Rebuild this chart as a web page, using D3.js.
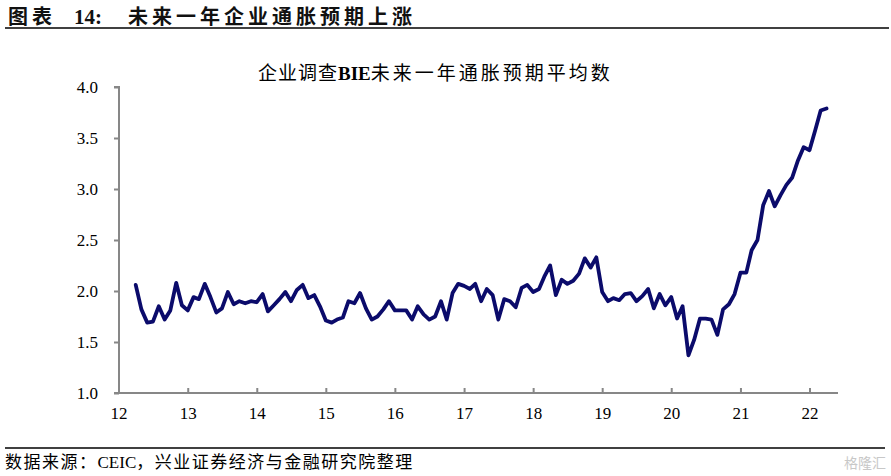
<!DOCTYPE html>
<html><head><meta charset="utf-8">
<script src="https://cdn.jsdelivr.net/npm/d3@7"></script>
<style>
html,body{margin:0;padding:0;background:#fff;}
svg{display:block;}
</style></head>
<body>
<script>
// Data: monthly BIE year-ahead inflation expectations, Apr 2012 - Apr 2022
const startYear = 2012, startMonth = 3; // April (0-based)
const values = [
2.06,1.82,1.69,1.70,1.85,1.72,1.81,2.08,1.86,
1.81,1.94,1.92,2.07,1.94,1.79,1.83,1.99,1.87,1.90,1.88,1.90,
1.89,1.97,1.80,1.86,1.92,1.99,1.90,2.01,2.06,1.93,1.96,1.85,
1.71,1.69,1.72,1.74,1.90,1.88,1.98,1.83,1.72,1.75,1.82,1.90,
1.81,1.81,1.81,1.72,1.85,1.77,1.72,1.75,1.90,1.72,1.98,2.07,
2.05,2.02,2.07,1.90,2.02,1.96,1.72,1.92,1.90,1.84,2.03,2.06,
1.99,2.02,2.14,2.25,1.96,2.11,2.07,2.10,2.17,2.32,2.23,2.33,
1.99,1.90,1.93,1.91,1.97,1.98,1.90,1.95,2.02,1.83,1.97,1.86,
1.94,1.73,1.85,1.37,1.52,1.73,1.73,1.72,1.57,1.82,1.87,1.97,
2.18,2.18,2.40,2.50,2.84,2.98,2.83,2.94,3.04,3.11,3.28,3.41,
3.38,3.58,3.77,3.79
];
const yTicks = [1.0,1.5,2.0,2.5,3.0,3.5,4.0];
const xTickYears = [2012,2013,2014,2015,2016,2017,2018,2019,2020,2021,2022];
const xTickLabels = ["12","13","14","15","16","17","18","19","20","21","22"];

const W = 891, H = 476;
const svg = d3.select("body").append("svg").attr("width", W).attr("height", H);

const data = values.map((v,i)=>({date:new Date(startYear, startMonth+i, 1), v}));

const x = d3.scaleTime()
  .domain([new Date(2012,0,1), new Date(2022,0,1)])
  .range([118.5, 118.5 + 10*69.1]);
const y = d3.scaleLinear().domain([1,4]).range([393,87]);

const serif = "'Liberation Serif', 'Times New Roman', serif";
const cjk = "'Noto Sans CJK SC', 'Noto Sans', sans-serif";

// Header
const t = svg.append("text").attr("y",24).style("fill","#111");
t.append("tspan").attr("x",8).style("font-family",cjk).style("font-weight","bold")
  .style("font-size","20px").style("letter-spacing","4px").text("图表");
t.append("tspan").attr("x",74).style("font-family",serif).style("font-weight","bold")
  .style("font-size","21px").text("14:");
t.append("tspan").attr("x",128).style("font-family",cjk).style("font-weight","bold")
  .style("font-size","20px").style("letter-spacing","4px").text("未来一年企业通胀预期上涨");
svg.append("line").attr("x1",5).attr("x2",889).attr("y1",28).attr("y2",28)
  .attr("stroke","#000").attr("stroke-width",1.5);

// Chart title
const ct = svg.append("text").attr("y",80).style("fill","#000").style("font-size","19px");
ct.append("tspan").attr("x",258).style("font-family",cjk).style("letter-spacing","1px").text("企业调查");
ct.append("tspan").style("font-family",serif).style("font-weight","bold").text("BIE");
ct.append("tspan").style("font-family",cjk).style("letter-spacing","3px").text("未来一年通胀预期平均数");

// Y axis
const yAxis = d3.axisLeft(y).tickValues(yTicks).tickFormat(d3.format(".1f")).tickSize(5).tickPadding(16);
const gy = svg.append("g").attr("transform","translate(119,0)").call(yAxis);
gy.attr("font-family", null).attr("font-size", null);
gy.select(".domain").attr("stroke","#878787").attr("stroke-width",2).attr("d","M-5,87H0V393H-5");
gy.selectAll(".tick line").attr("stroke","#878787").attr("stroke-width",2);
gy.selectAll(".tick text").style("font-family",serif).style("font-size","17px").style("fill","#000");

// X axis
const xAxis = d3.axisBottom(x).tickValues(xTickYears.map(yr=>new Date(yr,0,1)))
  .tickFormat((d,i)=>xTickLabels[i]).tickSize(-5).tickPadding(14);
const gx = svg.append("g").attr("transform","translate(0,393)").call(xAxis);
gx.attr("font-family", null).attr("font-size", null);
gx.select(".domain").attr("stroke","#878787").attr("stroke-width",2).attr("d","M119,0H838");
gx.selectAll(".tick line").attr("stroke","#878787").attr("stroke-width",2);
gx.selectAll(".tick text").style("font-family",serif).style("font-size","17px").style("fill","#000");

// Line
const line = d3.line().x(d=>x(d.date)).y(d=>y(d.v));
svg.append("path").datum(data).attr("d",line)
  .attr("fill","none").attr("stroke","#0b0b6b").attr("stroke-width",3.8)
  .attr("stroke-linejoin","round").attr("stroke-linecap","round");

// Footer
svg.append("line").attr("x1",5).attr("x2",885).attr("y1",448).attr("y2",448)
  .attr("stroke","#000").attr("stroke-width",1.5);
const st = svg.append("text").attr("y",468).style("fill","#000").style("font-size","17px");
st.append("tspan").attr("x",5).style("font-family",cjk).style("letter-spacing","1.5px").text("数据来源：");
st.append("tspan").style("font-family",serif).text("CEIC");
st.append("tspan").style("font-family",cjk).style("letter-spacing","1.5px").text("，兴业证券经济与金融研究院整理");
svg.append("text").attr("x",886).attr("y",468).attr("text-anchor","end")
  .style("font-family",cjk).style("font-size","14px").style("fill","#c8c8c8").text("格隆汇");
</script>
</body></html>
